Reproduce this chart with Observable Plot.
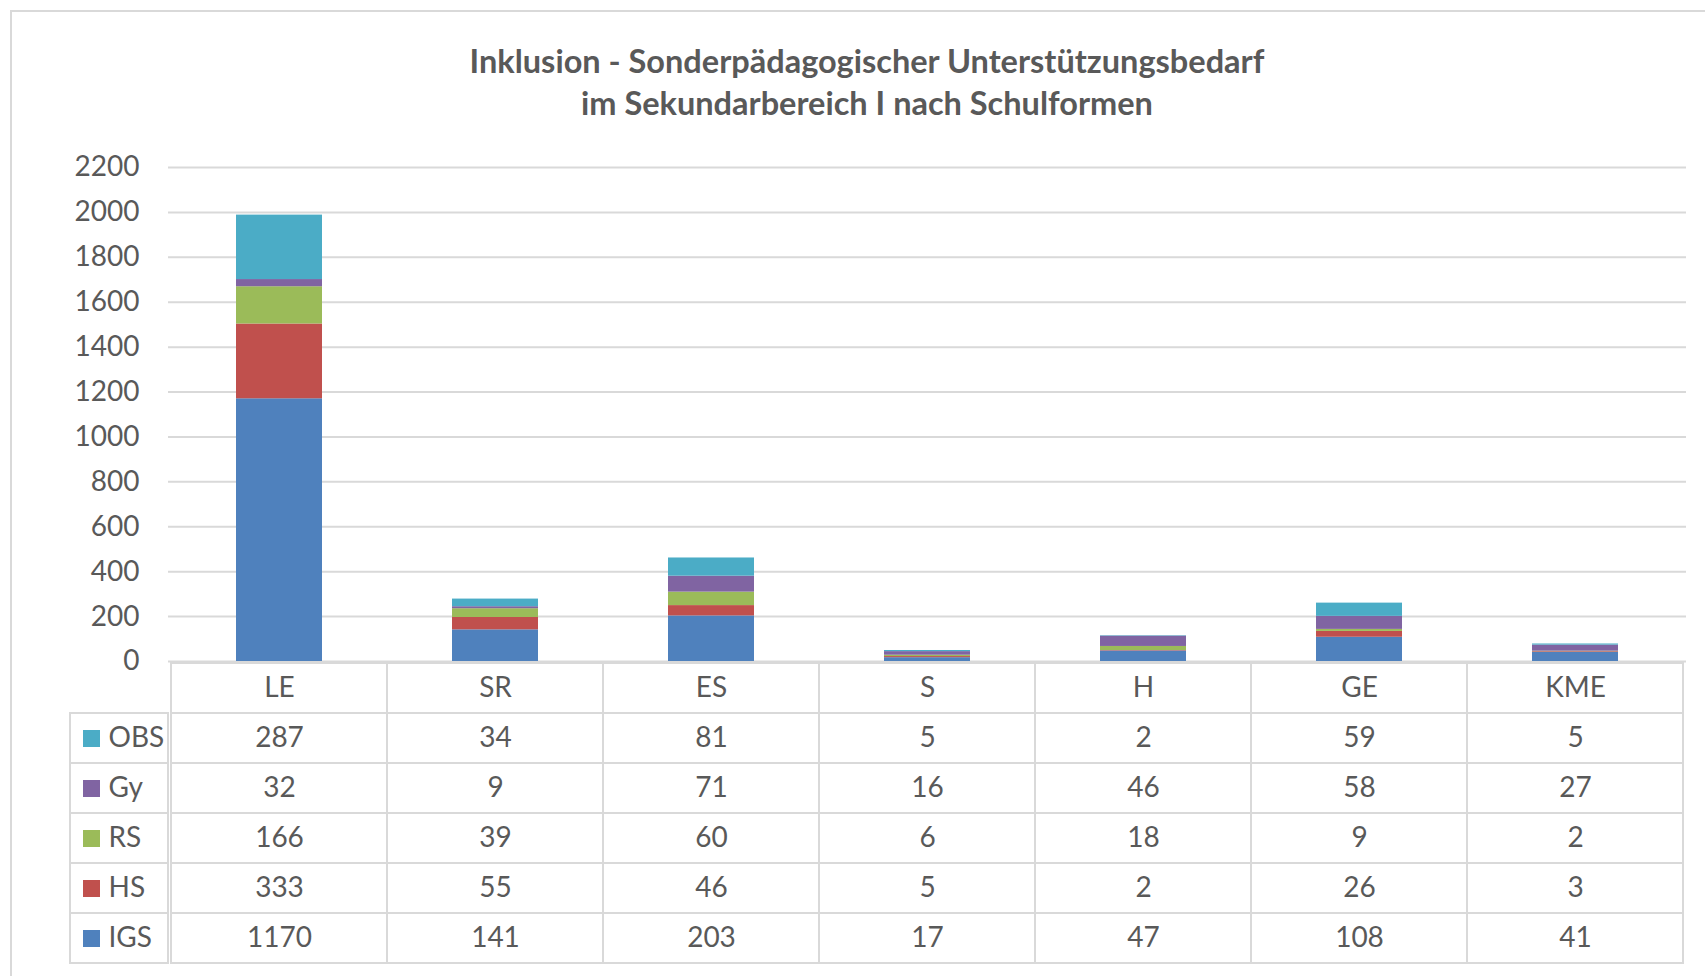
<!DOCTYPE html>
<html><head><meta charset="utf-8">
<script src="https://cdn.jsdelivr.net/npm/d3@7"></script>
<script src="https://cdn.jsdelivr.net/npm/@observablehq/plot@0.6"></script>
<style>
body{margin:0;background:#fff;width:1705px;height:976px;overflow:hidden;position:relative;font-family:Lato,sans-serif;}
#frame{position:absolute;left:10px;top:10px;width:1800px;height:1100px;border:2px solid #d9d9d9;box-sizing:border-box;}
#title{position:absolute;left:0;top:40px;width:1734px;text-align:center;font-family:Lato,sans-serif;font-weight:bold;font-size:32.5px;line-height:42px;color:#595959;}
.abs{position:absolute;}
</style>
</head><body>
<div id="frame"></div>
<div id="title">Inklusion - Sonderpädagogischer Unterstützungsbedarf<br>im Sekundarbereich I nach Schulformen</div>
<div id="chart" class="abs" style="left:0;top:0"></div>
<div id="legend" class="abs" style="left:69px;top:660px"></div>
<div id="table" class="abs" style="left:0;top:660px"></div>
<script>
const categories = ["LE","SR","ES","S","H","GE","KME"];
const seriesNames = ["IGS","HS","RS","Gy","OBS"];
const IGS = [1170,141,203,17,47,108,41];
const HS  = [333,55,46,5,2,26,3];
const RS  = [166,39,60,6,18,9,2];
const Gy  = [32,9,71,16,46,58,27];
const OBS = [287,34,81,5,2,59,5];
const yTicks = [0,200,400,600,800,1000,1200,1400,1600,1800,2000,2200];
const seriesColors = ["#4F81BD","#C0504D","#9BBB59","#8064A2","#4BACC6"];
const tableRowOrder = ["OBS","Gy","RS","HS","IGS"];

const valuesBySeries = {IGS, HS, RS, Gy, OBS};
const data = [];
for (const s of seriesNames) categories.forEach((c,i) => data.push({cat:c, series:s, value:valuesBySeries[s][i]}));

const font = {fontFamily:"Lato, sans-serif", fontSize:"28px", color:"#595959", background:"transparent", overflow:"visible"};

const chart = Plot.plot({
  width:1705, height:700,
  marginLeft:168, marginRight:19, marginTop:167, marginBottom:39,
  style:font,
  x:{domain:categories, paddingInner:0.6, paddingOuter:0.3, axis:null},
  y:{domain:[0,2200], axis:null, label:null},
  color:{domain:seriesNames, range:seriesColors},
  marks:[
    Plot.ruleY(yTicks, {stroke:"#d9d9d9", strokeWidth:2}),
    Plot.axisY(yTicks, {tickSize:0, tickPadding:29, fontSize:28, label:null, tickFormat:d=>String(d)}),
    Plot.barY(data, {x:"cat", y:"value", fill:"series", order:seriesNames, inset:0})
  ]
});
document.getElementById("chart").append(chart);

const rowDomain = ["head", ...tableRowOrder];
const table = Plot.plot({
  width:1705, height:305,
  marginLeft:168, marginRight:19, marginTop:1, marginBottom:1,
  style:font,
  x:{domain:categories, padding:0, axis:null},
  y:{domain:rowDomain, padding:0, axis:null},
  marks:[
    Plot.cell(categories, {x:d=>d, y:()=>"head", fill:"white", stroke:"#d9d9d9", strokeWidth:2, inset:0}),
    Plot.cell(data, {x:"cat", y:"series", fill:"white", stroke:"#d9d9d9", strokeWidth:2, inset:0}),
    Plot.text(categories, {x:d=>d, y:()=>"head", text:d=>d, fontSize:28, fill:"#595959"}),
    Plot.text(data, {x:"cat", y:"series", text:d=>String(d.value), fontSize:28, fill:"#595959"})
  ]
});
document.getElementById("table").append(table);

const legend = Plot.plot({
  width:100, height:305,
  marginLeft:1, marginRight:1, marginTop:1, marginBottom:1,
  style:font,
  x:{domain:["legend"], padding:0, axis:null},
  y:{domain:rowDomain, padding:0, axis:null},
  color:{domain:seriesNames, range:seriesColors},
  marks:[
    Plot.cell(tableRowOrder, {x:()=>"legend", y:d=>d, fill:"white", stroke:"#d9d9d9", strokeWidth:2, inset:0}),
    Plot.dot(tableRowOrder, {y:d=>d, frameAnchor:"left", dx:21, symbol:"square", r:9.6, fill:d=>d, stroke:null}),
    Plot.text(tableRowOrder, {y:d=>d, text:d=>d, frameAnchor:"left", dx:38, textAnchor:"start", fontSize:28, fill:"#595959"})
  ]
});
document.getElementById("legend").append(legend);
</script>
</body></html>
